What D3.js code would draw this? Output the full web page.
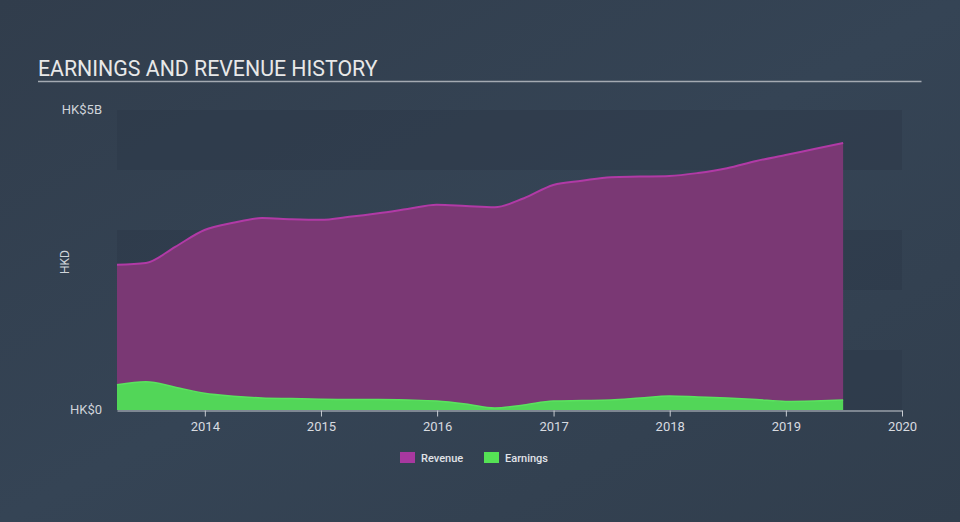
<!DOCTYPE html>
<html><head><meta charset="utf-8">
<script src="https://cdn.jsdelivr.net/npm/d3@7"></script>
<style>
html,body{margin:0;padding:0;background:#333f4f;}
svg{display:block;font-family:Roboto,"Open Sans",sans-serif;}
</style></head>
<body><svg id="c" width="960" height="522"></svg>
<script>
const dates = ["2013-03-31","2013-06-30","2013-09-30","2013-12-31","2014-03-31","2014-06-30","2014-09-30","2014-12-31","2015-03-31","2015-06-30","2015-09-30","2015-12-31","2016-03-31","2016-06-30","2016-09-30","2016-12-31","2017-03-31","2017-06-30","2017-09-30","2017-12-31","2018-03-31","2018-06-30","2018-09-30","2018-12-31","2019-03-31","2019-06-30"];
const revenue = [2.42,2.45,2.72,3.00,3.12,3.20,3.18,3.17,3.22,3.28,3.35,3.42,3.40,3.38,3.53,3.75,3.82,3.88,3.89,3.90,3.95,4.03,4.15,4.25,4.35,4.45];
const earnings = [0.42,0.47,0.38,0.28,0.23,0.20,0.19,0.18,0.175,0.175,0.167,0.15,0.10,0.033,0.083,0.15,0.158,0.167,0.20,0.233,0.217,0.20,0.175,0.142,0.15,0.167];
const yearTicks = ["2014","2015","2016","2017","2018","2019","2020"];
const yTickLabels = ["HK$0","HK$5B"];
const seriesNames = ["Revenue","Earnings"];

const svg = d3.select("#c");
const parse = d3.timeParse("%Y-%m-%d");
const data = dates.map((d,i)=>({date:parse(d),rev:revenue[i],earn:earnings[i]}));

const x = d3.scaleTime().domain([parse("2013-03-31"), parse("2020-01-01")]).range([117,902]);
const y = d3.scaleLinear().domain([0,5]).range([410,110]);

// background gradient
const defs = svg.append("defs");
const g1 = defs.append("linearGradient").attr("id","bg").attr("x1",0).attr("y1",0).attr("x2",1).attr("y2",1);
g1.append("stop").attr("offset","0%").attr("stop-color","#313d4c");
g1.append("stop").attr("offset","50%").attr("stop-color","#354455");
g1.append("stop").attr("offset","100%").attr("stop-color","#313e4d");
svg.append("rect").attr("width",960).attr("height",522).attr("fill","url(#bg)");

// bands
for (let i=0;i<5;i++){
  if (i%2===0){
    svg.append("rect").attr("x",117).attr("width",785)
      .attr("y",y(5-i)).attr("height",y(4-i)-y(5-i))
      .attr("fill","#2b3847").attr("opacity",0.5);
  }
}

// title
svg.append("text").attr("x",38).attr("y",76).attr("fill","#e8e8e8")
  .attr("font-size",21.3).text("EARNINGS AND REVENUE HISTORY");
svg.append("line").attr("x1",38).attr("x2",921.5).attr("y1",81.5).attr("y2",81.5)
  .attr("stroke","#a4aab2").attr("stroke-width",1.5);

// areas
const areaRev = d3.area().x(d=>x(d.date)).y0(y(0)).y1(d=>y(d.rev)).curve(d3.curveMonotoneX);
const lineRev = d3.line().x(d=>x(d.date)).y(d=>y(d.rev)).curve(d3.curveMonotoneX);
const areaEarn = d3.area().x(d=>x(d.date)).y0(y(0)).y1(d=>y(d.earn)).curve(d3.curveMonotoneX);
const lineEarn = d3.line().x(d=>x(d.date)).y(d=>y(d.earn)).curve(d3.curveMonotoneX);

svg.append("path").datum(data).attr("d",areaRev).attr("fill","#7a3874");
svg.append("path").datum(data).attr("d",lineRev).attr("fill","none").attr("stroke","#b13aa6").attr("stroke-width",2);
svg.append("path").datum(data).attr("d",areaEarn).attr("fill","#52d658");
svg.append("path").datum(data).attr("d",lineEarn).attr("fill","none").attr("stroke","#5ae35e").attr("stroke-width",1.5);

// x axis
const tickDates = yearTicks.map(t=>parse(t+"-01-01"));
const xAxis = d3.axisBottom(x).tickValues(tickDates).tickFormat(d3.timeFormat("%Y")).tickSize(6).tickSizeOuter(0);
const ax = svg.append("g").attr("transform","translate(0,410.5)").call(xAxis);
ax.select(".domain").attr("stroke","#c8ccd2");
ax.selectAll(".tick line").attr("stroke","#c8ccd2");
ax.selectAll(".tick text").attr("fill","#d8dbe0").attr("font-size",13).attr("font-family","Roboto,sans-serif").attr("dy","0.85em");

// y labels
svg.append("text").attr("x",102).attr("y",y(5)+4).attr("text-anchor","end").attr("fill","#d0d4da").attr("font-size",13).text(yTickLabels[1]);
svg.append("text").attr("x",102).attr("y",y(0)+4).attr("text-anchor","end").attr("fill","#d0d4da").attr("font-size",13).text(yTickLabels[0]);
svg.append("text").attr("transform","translate(69,262) rotate(-90)").attr("text-anchor","middle")
  .attr("fill","#d0d4da").attr("font-size",12).text("HKD");

// legend
const legColors = ["#a8389f","#55e255"];
const legX = [400,484];
seriesNames.forEach((n,i)=>{
  svg.append("rect").attr("x",legX[i]).attr("y",452).attr("width",15).attr("height",11).attr("fill",legColors[i]);
  svg.append("text").attr("x",legX[i]+21).attr("y",462).attr("fill","#e0e3e8").attr("font-size",11).attr("font-weight",500).text(n);
});
</script>
</body></html>
